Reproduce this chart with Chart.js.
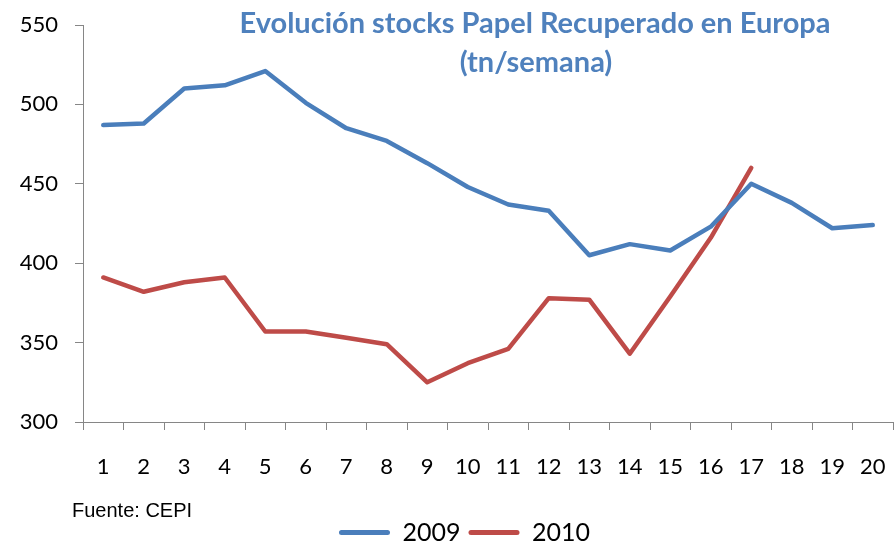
<!DOCTYPE html>
<html>
<head>
<meta charset="utf-8">
<script src="https://cdn.jsdelivr.net/npm/chart.js@4.4.1/dist/chart.umd.min.js"></script>
<style>
    html, body { margin: 0; padding: 0; background: #fff; }
    canvas { display: block; }
</style>
</head>
<body>
<canvas id="stocksChart" width="896" height="543"></canvas>
<script>
// data
const weeks = ['1', '2', '3', '4', '5', '6', '7', '8', '9', '10', '11', '12', '13', '14', '15', '16', '17', '18', '19', '20'];
const stocks2009 = [487, 488, 510, 512, 521, 501, 485, 477, 463, 448, 437, 433, 405, 412, 408, 423, 450, 438, 422, 424];
const stocks2010 = [391, 382, 388, 391, 357, 357, 353, 349, 325, 337, 346, 378, 377, 343, 379, 416, 460, null, null, null];
const yTicks = [300, 350, 400, 450, 500, 550];
const seriesNames = ['2009', '2010'];
const titleLines = ['Evolución stocks Papel Recuperado en Europa', '(tn/semana)'];
const sourceNote = 'Fuente: CEPI';

const axisGrey = '#868686';

const textPlugin = {
    id: 'textPlugin',
    afterLayout: function (chart) {
        // nudge the legend to where the reference has it
        if (chart.legend) {
            chart.legend.top += 12;
            chart.legend.bottom += 12;
            chart.legend.left += 18;
            chart.legend.right += 18;
        }
    },
    afterDraw: function (chart) {
        const ctx = chart.ctx;
        ctx.save();
        ctx.fillStyle = '#4F81BD';
        ctx.font = 'bold 29px Lato';
        ctx.textAlign = 'center';
        ctx.textBaseline = 'alphabetic';
        ctx.fillText(titleLines[0], 535, 33);
        ctx.fillText(titleLines[1], 536, 72);

        ctx.fillStyle = '#000';
        ctx.font = '20px "Liberation Sans"';
        ctx.textAlign = 'left';
        ctx.fillText(sourceNote, 72, 517);
        ctx.restore();
    }
};

new Chart(document.getElementById('stocksChart'), {
    type: 'line',
    data: {
        labels: weeks,
        datasets: [{
            label: seriesNames[0],
            data: stocks2009,
            borderColor: '#4A7EBB',
            backgroundColor: '#4A7EBB',
            borderWidth: 4.5,
            borderJoinStyle: 'round',
            borderCapStyle: 'round',
            pointRadius: 0,
            tension: 0
        }, {
            label: seriesNames[1],
            data: stocks2010,
            borderColor: '#BE4B48',
            backgroundColor: '#BE4B48',
            borderWidth: 4.5,
            borderJoinStyle: 'round',
            borderCapStyle: 'round',
            pointRadius: 0,
            tension: 0
        }]
    },
    options: {
        responsive: false,
        animation: false,
        layout: {
            padding: { top: 25, right: 3, bottom: 0, left: 0 }
        },
        plugins: {
            legend: {
                position: 'bottom',
                labels: {
                    boxWidth: 51,
                    boxHeight: 5,
                    padding: 8,
                    color: '#000',
                    useBorderRadius: true,
                    font: { family: 'Lato', size: 25 },
                    generateLabels: function (chart) {
                        return Chart.defaults.plugins.legend.labels.generateLabels(chart).map(function (item) {
                            item.fillStyle = item.strokeStyle;
                            item.lineWidth = 0;
                            item.borderRadius = 2.5;
                            return item;
                        });
                    }
                }
            },
            tooltip: { enabled: false }
        },
        scales: {
            x: {
                offset: true,
                grid: {
                    offset: true,
                    drawOnChartArea: false,
                    tickLength: 8,
                    color: axisGrey
                },
                border: { color: axisGrey, width: 1 },
                ticks: {
                    color: '#000',
                    padding: 24,
                    maxRotation: 0,
                    autoSkip: false,
                    font: { family: 'Lato', size: 22 }
                },
                afterFit: function (scale) {
                    scale.height = 78;
                    scale.paddingLeft = 0;
                    scale.paddingRight = 0;
                }
            },
            y: {
                min: yTicks[0],
                max: yTicks[yTicks.length - 1],
                afterBuildTicks: function (scale) {
                    scale.ticks = yTicks.map(function (v) { return { value: v }; });
                },
                grid: {
                    drawOnChartArea: false,
                    tickLength: 8,
                    color: axisGrey
                },
                border: { color: axisGrey, width: 1 },
                ticks: {
                    color: '#000',
                    padding: 17,
                    font: { family: 'Lato', size: 22 }
                },
                afterFit: function (scale) {
                    scale.width = 83;
                    scale.paddingTop = 0;
                    scale.paddingBottom = 0;
                }
            }
        }
    },
    plugins: [textPlugin]
});
</script>
</body>
</html>
